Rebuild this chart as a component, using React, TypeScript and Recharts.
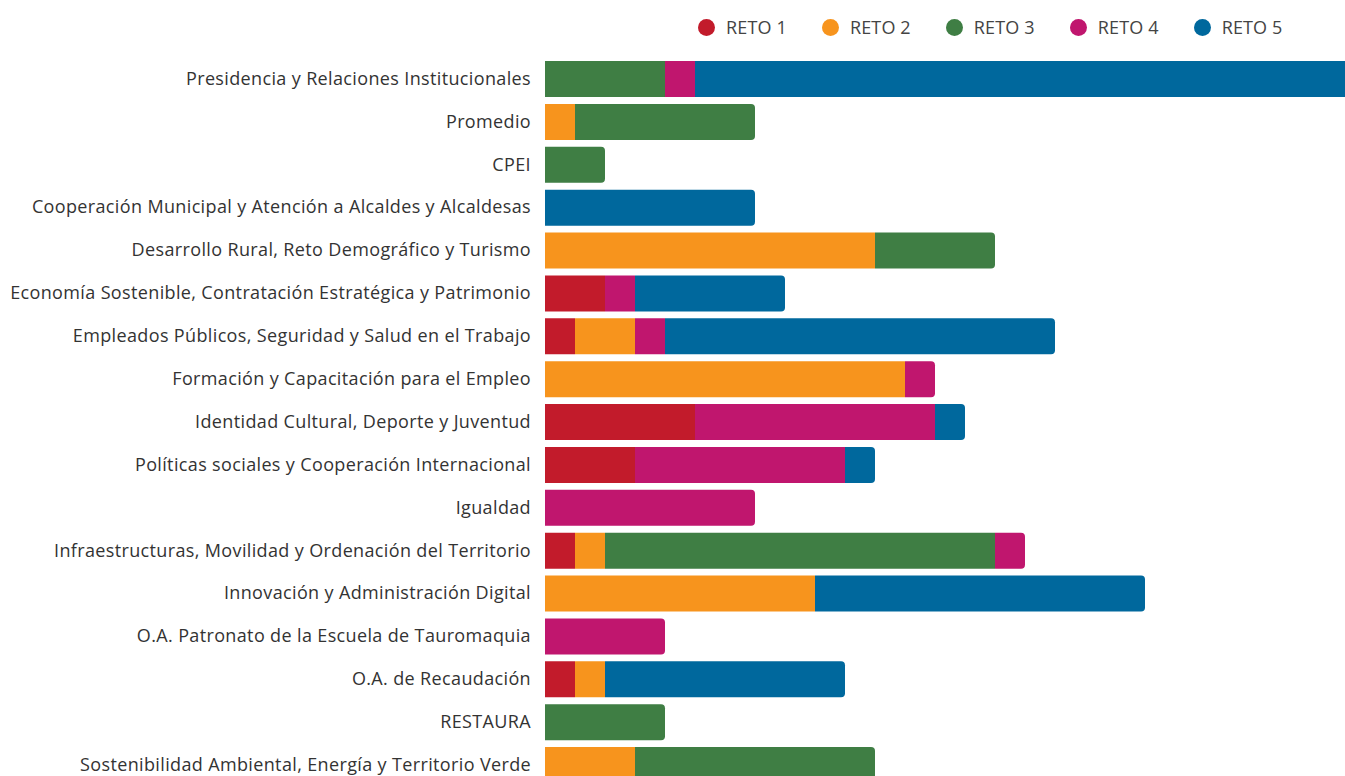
import React from "react";
import { BarChart, Bar, XAxis, YAxis } from "recharts";

const categories = [
  "Presidencia y Relaciones Institucionales",
  "Promedio",
  "CPEI",
  "Cooperación Municipal y Atención a Alcaldes y Alcaldesas",
  "Desarrollo Rural, Reto Demográfico y Turismo",
  "Economía Sostenible, Contratación Estratégica y Patrimonio",
  "Empleados Públicos, Seguridad y Salud en el Trabajo",
  "Formación y Capacitación para el Empleo",
  "Identidad Cultural, Deporte y Juventud",
  "Políticas sociales y Cooperación Internacional",
  "Igualdad",
  "Infraestructuras, Movilidad y Ordenación del Territorio",
  "Innovación y Administración Digital",
  "O.A. Patronato de la Escuela de Tauromaquia",
  "O.A. de Recaudación",
  "RESTAURA",
  "Sostenibilidad Ambiental, Energía y Territorio Verde",
];

const reto1 = [0, 0, 0, 0, 0, 2, 1, 0, 5, 3, 0, 1, 0, 0, 1, 0, 0];
const reto2 = [0, 1, 0, 0, 11, 0, 2, 12, 0, 0, 0, 1, 9, 0, 1, 0, 3];
const reto3 = [4, 6, 2, 0, 4, 0, 0, 0, 0, 0, 0, 13, 0, 0, 0, 4, 8];
const reto4 = [1, 0, 0, 0, 0, 1, 1, 1, 8, 7, 7, 1, 0, 4, 0, 0, 0];
const reto5 = [22, 0, 0, 7, 0, 5, 13, 0, 1, 1, 0, 0, 11, 0, 8, 0, 0];

const seriesKeys = ["r1", "r2", "r3", "r4", "r5"];
const seriesNames = ["RETO 1", "RETO 2", "RETO 3", "RETO 4", "RETO 5"];
const colors = ["#C21B2B", "#F7941D", "#3F7E44", "#C0166E", "#00689D"];

const data = categories.map((c, i) => ({
  name: c,
  r1: reto1[i],
  r2: reto2[i],
  r3: reto3[i],
  r4: reto4[i],
  r5: reto5[i],
}));

const FONT = "'Open Sans', sans-serif";

function makeShape(key: string, color: string) {
  return (props: any) => {
    const { x, y, width, height, payload } = props;
    if (!width || width <= 0) return <g />;
    const idx = seriesKeys.indexOf(key);
    let isLast = true;
    for (let j = idx + 1; j < seriesKeys.length; j++) {
      if (payload[seriesKeys[j]] > 0) isLast = false;
    }
    const r = isLast ? Math.min(4, width / 2) : 0;
    const x2 = x + width;
    const y2 = y + height;
    const d = `M${x},${y} L${x2 - r},${y} Q${x2},${y} ${x2},${y + r} L${x2},${y2 - r} Q${x2},${y2} ${x2 - r},${y2} L${x},${y2} Z`;
    return <path d={d} fill={color} />;
  };
}

export default function App() {
  return (
    <div
      style={{
        position: "fixed",
        left: 0,
        top: 0,
        width: 1345,
        height: 776,
        overflow: "hidden",
        background: "#fff",
      }}
    >
      <div
        style={{
          position: "absolute",
          left: 698,
          top: 15,
          height: 24,
          display: "flex",
          alignItems: "center",
          gap: 35,
          fontFamily: FONT,
          fontSize: 18,
          letterSpacing: 0.15,
          color: "#444",
          zIndex: 2,
        }}
      >
        {seriesNames.map((n, i) => (
          <div key={n} style={{ display: "flex", alignItems: "center" }}>
            <span
              style={{
                display: "inline-block",
                width: 17,
                height: 17,
                borderRadius: 9,
                background: colors[i],
                marginRight: 11,
              }}
            />
            <span>{n}</span>
          </div>
        ))}
      </div>
      <BarChart
        width={1445}
        height={787}
        data={data}
        layout="vertical"
        margin={{ top: 58, right: 0, bottom: 0, left: 0 }}
        barSize={36}
      >
        <XAxis type="number" domain={[0, 30]} hide />
        <YAxis
          type="category"
          dataKey="name"
          width={545}
          axisLine={false}
          tickLine={false}
          tickSize={0}
          tickMargin={14}
          interval={0}
          tick={{ fill: "#333", fontSize: 18, fontFamily: FONT, letterSpacing: 0.36, dy: -1 }}
        />
        {seriesKeys.map((k, i) => (
          <Bar
            key={k}
            dataKey={k}
            name={seriesNames[i]}
            stackId="a"
            fill={colors[i]}
            isAnimationActive={false}
            shape={makeShape(k, colors[i])}
          />
        ))}
      </BarChart>
    </div>
  );
}
